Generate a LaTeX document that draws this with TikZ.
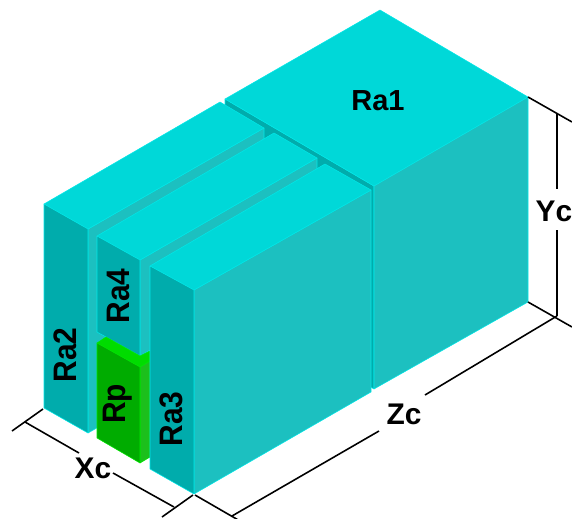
\documentclass[tikz,border=0pt]{standalone}
\usepackage{graphicx}
\usepackage{fontspec}
\setmainfont{Liberation Sans}
\definecolor{cyantop}{HTML}{00D8D8}
\definecolor{cyanside}{HTML}{1CC0C0}
\definecolor{cyanfront}{HTML}{00ACAC}
\definecolor{cyanedge}{HTML}{00E8E8}
\definecolor{greentop}{HTML}{00DC00}
\definecolor{greenside}{HTML}{1CC01C}
\definecolor{greenfront}{HTML}{00AC00}
\definecolor{greenedge}{HTML}{00E800}
\newcommand{\sidetext}[1]{\scalebox{0.92}[1]{#1}}
\begin{document}
\begin{tikzpicture}[x=0.02cm,y=-0.02cm,
    topface/.style={fill=cyantop,draw=cyanedge,line width=0.3pt,line join=round},
    sideface/.style={fill=cyanside,draw=cyanedge,line width=0.3pt,line join=round},
    frontface/.style={fill=cyanfront,draw=cyanedge,line width=0.3pt,line join=round},
    rptop/.style={fill=greentop,draw=greenedge,line width=0.3pt,line join=round},
    rpside/.style={fill=greenside,draw=greenedge,line width=0.3pt,line join=round},
    rpfront/.style={fill=greenfront,draw=greenedge,line width=0.3pt,line join=round},
    dimline/.style={black,line width=0.9pt},
    blocklabel/.style={font=\bfseries\fontsize{16.5}{18}\selectfont,inner sep=0pt},
    turnedlabel/.style={font=\bfseries\fontsize{18.5}{20}\selectfont,inner sep=0pt,rotate=90},
    dimlabel/.style={font=\bfseries\fontsize{17}{19}\selectfont,inner sep=0pt}]
  \useasboundingbox (0,0) rectangle (572,518);

  % Ra1
  \fill[frontface] (225,99) -- (374,186) -- (374,389) -- (225,303) -- cycle;
  \fill[topface] (380,10) -- (528,97) -- (374,186) -- (225,99) -- cycle;
  \fill[sideface] (374,186) -- (528,97) -- (528,302) -- (374,389) -- cycle;

  % Ra2
  \fill[sideface] (88,229) -- (264,128) -- (264,332) -- (88,433) -- cycle;
  \fill[topface] (44,204) -- (220,102) -- (264,128) -- (88,229) -- cycle;
  \fill[frontface] (44,204) -- (88,229) -- (88,433) -- (44,408) -- cycle;

  % Ra4
  \fill[sideface] (140,260) -- (317,158) -- (317,254) -- (140,356) -- cycle;
  \fill[topface] (97,236) -- (274,133) -- (317,158) -- (140,260) -- cycle;
  \fill[frontface] (97,236) -- (140,260) -- (140,356) -- (97,332) -- cycle;

  % Rp
  \fill[rptop] (97,343) -- (106,337) -- (140,356) -- (150,351) -- (150,361) -- (140,367) -- cycle;
  \fill[rpside] (140,367) -- (150,361) -- (150,457) -- (140,463) -- cycle;
  \fill[rpfront] (97,343) -- (140,367) -- (140,463) -- (97,438) -- cycle;

  % Ra3
  \fill[sideface] (194,290) -- (371,190) -- (371,392) -- (194,494) -- cycle;
  \fill[topface] (150,266) -- (325,164) -- (371,190) -- (194,290) -- cycle;
  \fill[frontface] (150,266) -- (194,290) -- (194,494) -- (150,469) -- cycle;

  % Noms des blocs
  \node[blocklabel] (ra1) at (378,101) {Ra1};
  \node[turnedlabel] (ra2) at (65,355) {\sidetext{Ra2}};
  \node[turnedlabel] (ra3) at (171,419) {\sidetext{Ra3}};
  \node[turnedlabel] (ra4) at (118,296) {\sidetext{Ra4}};
  \node[turnedlabel] (rp) at (118,404) {\sidetext{Rp}};

  % Cotes
  \node[dimlabel] (xc) at (93,468) {Xc};
  \node[dimlabel] (yc) at (554,211) {Yc};
  \node[dimlabel] (zc) at (404,414) {Zc};

  \coordinate (xa) at (43,409);
  \coordinate (xb) at (12,431);
  \coordinate (xd) at (193,495);
  \coordinate (xe) at (162,517);
  \coordinate (xf) at (25,422);
  \coordinate (xg) at (79,453);
  \coordinate (xh) at (113,473);
  \coordinate (xi) at (174,507);
  \draw[dimline] (xa) -- (xb);
  \draw[dimline] (xd) -- (xe);
  \draw[dimline] (xf) -- (xg);
  \draw[dimline] (xh) -- (xi);

  \coordinate (ya) at (528,97);
  \coordinate (yb) at (572,122);
  \coordinate (yd) at (528,302);
  \coordinate (ye) at (572,327);
  \coordinate (yf) at (557,113);
  \coordinate (yg) at (557,189);
  \coordinate (yh) at (557,230);
  \coordinate (yi) at (557,316);
  \draw[dimline] (ya) -- (yb);
  \draw[dimline] (yd) -- (ye);
  \draw[dimline] (yf) -- (yg);
  \draw[dimline] (yh) -- (yi);

  \coordinate (za) at (195,495);
  \coordinate (zb) at (240,521);
  \coordinate (zf) at (425,395);
  \coordinate (zg) at (232,516);
  \coordinate (zh) at (379,431);
  \draw[dimline] (za) -- (zb);
  \draw[dimline] (yi) -- (zf);
  \draw[dimline] (zh) -- (zg);
\end{tikzpicture}
\end{document}
